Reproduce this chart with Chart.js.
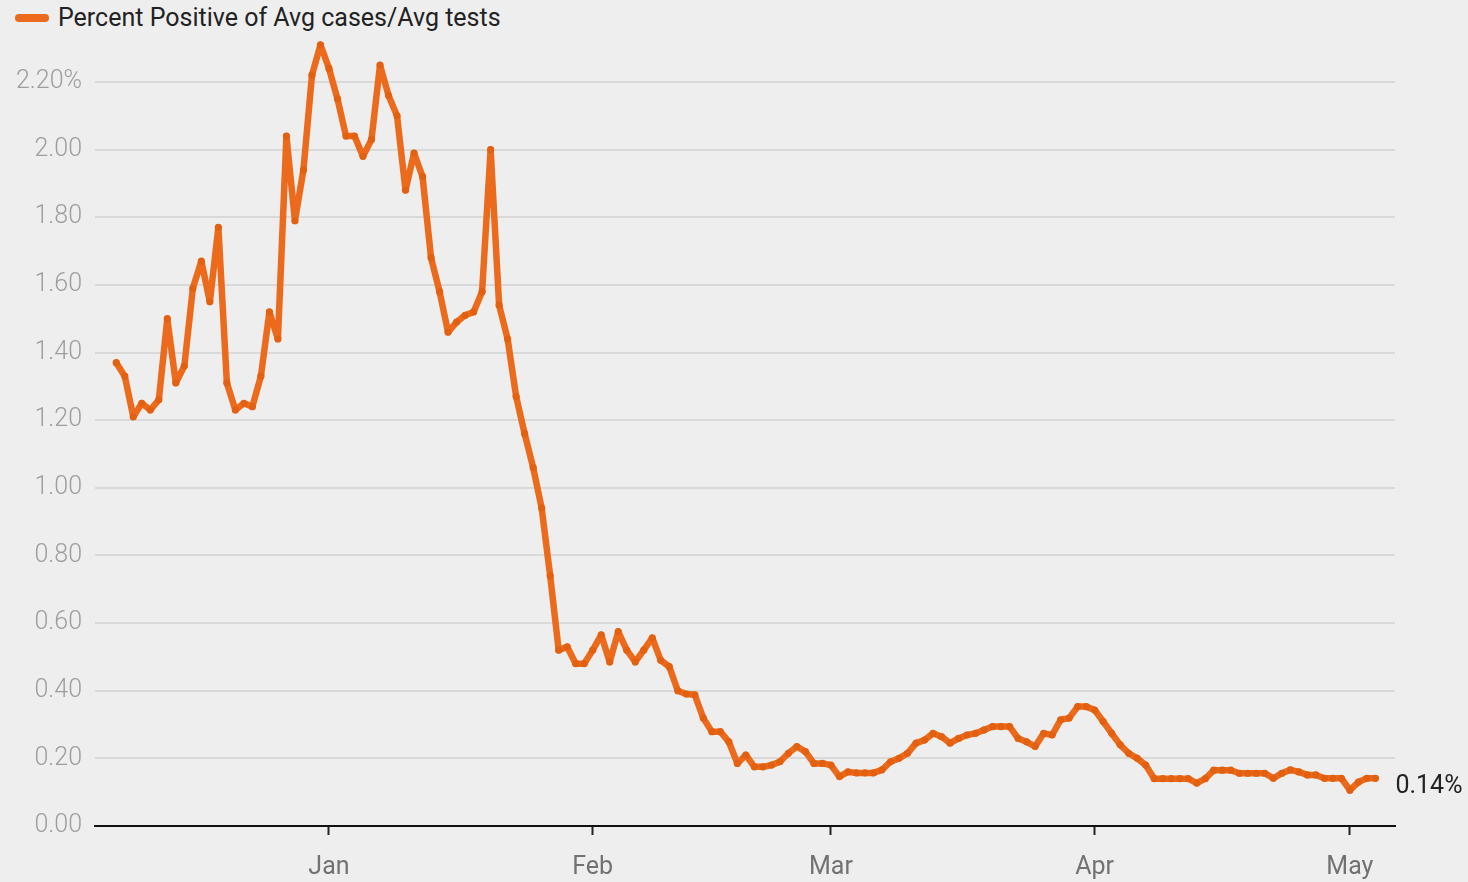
<!DOCTYPE html>
<html>
<head>
<meta charset="utf-8">
<script src="https://cdn.jsdelivr.net/npm/chart.js@4.4.1/dist/chart.umd.min.js"></script>
<style>
  html, body { margin: 0; padding: 0; background: #eeeeee; }
  body { width: 1468px; height: 882px; position: relative; overflow: hidden; font-family: Roboto, "Noto Sans", sans-serif; }
  #chart { position: absolute; left: 0; top: 0; }
  #legend { position: absolute; left: 15px; top: 4px; display: flex; align-items: center; font-size: 25px; line-height: 28px; color: #222; white-space: nowrap; }
  #legend .sw { display: inline-block; width: 34px; height: 8px; border-radius: 4px; background: #eb6a1c; margin-right: 9px; }
</style>
</head>
<body>
<div id="legend"><span class="sw"></span><span id="legendText"></span></div>
<canvas id="chart" width="1468" height="882"></canvas>
<script>
// ---- data (daily values, %) ----
const seriesName = 'Percent Positive of Avg cases/Avg tests';
const startDate = '2020-12-07';
const decValues = [1.37,1.33,1.21,1.25,1.23,1.26,1.50,1.31,1.36,1.59,1.67,1.55,1.77,1.31,1.23,1.25,1.24,1.33,1.52,1.44,2.04,1.79,1.94,2.22,2.31];
const janValues = [2.24,2.15,2.04,2.04,1.98,2.03,2.25,2.16,2.10,1.88,1.99,1.92,1.68,1.58,1.46,1.49,1.51,1.52,1.58,2.00,1.54,1.44,1.27,1.16,1.06,0.94,0.74,0.52,0.53,0.48,0.48];
const febValues = [0.52,0.565,0.485,0.575,0.52,0.485,0.52,0.556,0.49,0.471,0.40,0.39,0.388,0.319,0.279,0.279,0.249,0.185,0.21,0.175,0.175,0.18,0.19,0.215,0.235,0.22,0.185,0.185];
const marValues = [0.18,0.146,0.16,0.157,0.157,0.157,0.166,0.19,0.20,0.215,0.245,0.254,0.274,0.264,0.245,0.259,0.269,0.274,0.284,0.294,0.294,0.294,0.259,0.249,0.235,0.274,0.269,0.314,0.319,0.353,0.353];
const aprValues = [0.343,0.309,0.274,0.24,0.215,0.20,0.18,0.14,0.14,0.14,0.14,0.14,0.127,0.14,0.165,0.165,0.165,0.156,0.156,0.156,0.156,0.141,0.156,0.166,0.16,0.151,0.151,0.141,0.141,0.141];
const mayValues = [0.106,0.13,0.141,0.141];
const monthTickDates = ['2021-01-01','2021-02-01','2021-03-01','2021-04-01','2021-05-01'];
const monthTickLabels = ['Jan','Feb','Mar','Apr','May'];
const yTickValues = [0,0.2,0.4,0.6,0.8,1.0,1.2,1.4,1.6,1.8,2.0,2.2];

// ---- build ----
const DAY = 86400000;
const epoch = Date.UTC(2021,0,1);
const dayIndex = s => Math.round((Date.parse(s + 'T00:00:00Z') - epoch) / DAY);
const allValues = [].concat(decValues, janValues, febValues, marValues, aprValues, mayValues);
const start = dayIndex(startDate);
const points = allValues.map((v, i) => ({ x: start + i, y: v }));
const monthTicks = monthTickDates.map(dayIndex);
const ORANGE = '#eb6a1c';

document.getElementById('legendText').textContent = seriesName;

const endLabel = {
  id: 'endLabel',
  afterDatasetsDraw(chart) {
    const meta = chart.getDatasetMeta(0);
    const last = meta.data[meta.data.length - 1];
    const v = allValues[allValues.length - 1];
    const ctx = chart.ctx;
    ctx.save();
    ctx.font = '25px Roboto';
    ctx.fillStyle = '#222';
    ctx.textBaseline = 'middle';
    ctx.textAlign = 'left';
    ctx.fillText(v.toFixed(2) + '%', last.x + 20, last.y + 8);
    ctx.restore();
  }
};

new Chart(document.getElementById('chart'), {
  type: 'line',
  data: {
    datasets: [{
      label: seriesName,
      data: points,
      borderColor: ORANGE,
      backgroundColor: ORANGE,
      borderWidth: 6.5,
      pointRadius: 3.6,
      pointBorderWidth: 0,
      pointBackgroundColor: '#e2600f',
      tension: 0,
      borderJoinStyle: 'round',
      borderCapStyle: 'round'
    }]
  },
  options: {
    responsive: false,
    animation: false,
    devicePixelRatio: 1,
    layout: { padding: { top: 38, right: 73, left: 0, bottom: 0 } },
    plugins: { legend: { display: false }, tooltip: { enabled: false } },
    scales: {
      x: {
        type: 'linear',
        min: -27.5,
        max: 125.3,
        afterBuildTicks: s => { s.ticks = monthTicks.map(v => ({ value: v })); },
        afterFit: s => { s.height = 56; },
        ticks: {
          autoSkip: false, maxRotation: 0, padding: 18,
          color: '#727272', font: { family: 'Roboto', size: 25 },
          callback: v => monthTickLabels[monthTicks.indexOf(v)]
        },
        grid: { drawOnChartArea: false, drawTicks: true, tickLength: 9, tickWidth: 2, color: '#222' },
        border: { display: true, color: '#111', width: 2 }
      },
      y: {
        min: 0,
        max: 2.33,
        afterBuildTicks: s => { s.ticks = yTickValues.map(v => ({ value: v })); },
        afterFit: s => { s.width = 95; },
        ticks: {
          padding: 13, color: '#9e9e9e', font: { family: 'Roboto', size: 25, weight: '300' },
          callback: v => Math.abs(v - 2.2) < 1e-9 ? v.toFixed(2) + '%' : v.toFixed(2)
        },
        grid: { color: '#d9d9d9', lineWidth: 2, drawTicks: false },
        border: { display: false }
      }
    }
  },
  plugins: [endLabel]
});
</script>
</body>
</html>
